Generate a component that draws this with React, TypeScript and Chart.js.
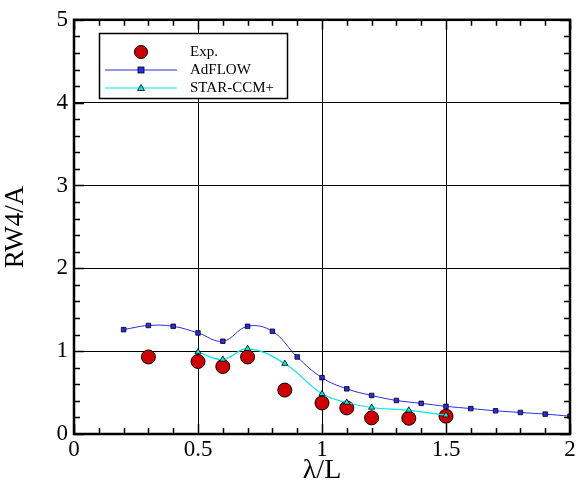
import React, { useEffect, useRef } from 'react';
import { Chart, registerables } from 'chart.js';
Chart.register(...registerables);

const expX = [0.3, 0.5, 0.6, 0.7, 0.85, 1.0, 1.1, 1.2, 1.35, 1.5];
const expY = [0.93, 0.875, 0.815, 0.93, 0.53, 0.375, 0.315, 0.195, 0.19, 0.215];

const adflowX = [0.2, 0.3, 0.4, 0.5, 0.6, 0.7, 0.8, 0.9, 1.0, 1.1, 1.2, 1.3, 1.4, 1.5, 1.6, 1.7, 1.8, 1.9, 2.0];
const adflowY = [1.26, 1.31, 1.3, 1.22, 1.12, 1.3, 1.24, 0.93, 0.68, 0.545, 0.465, 0.405, 0.37, 0.334, 0.307, 0.28, 0.26, 0.24, 0.215];

const starX = [0.5, 0.6, 0.7, 0.85, 1.0, 1.1, 1.2, 1.35, 1.5];
const starY = [0.99, 0.9, 1.03, 0.85, 0.485, 0.38, 0.32, 0.286, 0.227];

const xTicks = [0, 0.5, 1, 1.5, 2];
const xTickLabels = ['0', '0.5', '1', '1.5', '2'];
const yTicks = [0, 1, 2, 3, 4, 5];
const yTickLabels = ['0', '1', '2', '3', '4', '5'];
const legendLabels = ['Exp.', 'AdFLOW', 'STAR-CCM+'];

const SERIF = '"Liberation Serif", "DejaVu Serif", serif';
const RED = '#d00000';
const BLUE = '#2f2fe0';
const BLUE_FILL = '#2a2af0';
const CYAN = '#00e8e8';

const pts = (xs: number[], ys: number[]) => xs.map((x, i) => ({ x, y: ys[i] }));

const framePlugin = {
  id: 'frame',
  afterDatasetsDraw(chart: any) {
    const { ctx, chartArea: a, scales } = chart;
    const xs = scales.x, ys = scales.y;
    ctx.save();
    ctx.strokeStyle = '#000';
    ctx.lineWidth = 1.5;
    for (let i = 0; i <= 20; i++) {
      const v = i / 10;
      const px = Math.round(xs.getPixelForValue(v)) + 0.5;
      const len = i % 5 === 0 ? 10 : 6;
      ctx.beginPath();
      ctx.moveTo(px, a.bottom); ctx.lineTo(px, a.bottom - len);
      ctx.moveTo(px, a.top); ctx.lineTo(px, a.top + len);
      ctx.stroke();
    }
    for (let i = 0; i <= 25; i++) {
      const v = i / 5;
      const py = Math.round(ys.getPixelForValue(v)) + 0.5;
      const len = i % 5 === 0 ? 10 : 6;
      ctx.beginPath();
      ctx.moveTo(a.left, py); ctx.lineTo(a.left + len, py);
      ctx.moveTo(a.right, py); ctx.lineTo(a.right - len, py);
      ctx.stroke();
    }
    ctx.lineWidth = 2.5;
    ctx.strokeRect(a.left, a.top, a.right - a.left, a.bottom - a.top);

    // legend box
    const bx = 99, by = 33, bw = 188, bh = 65;
    ctx.fillStyle = '#fff';
    ctx.fillRect(bx, by, bw, bh);
    ctx.lineWidth = 1.5;
    ctx.strokeStyle = '#000';
    ctx.strokeRect(bx + 0.5, by + 0.5, bw, bh);
    const mx = 141;
    const rows = [52, 70, 88];
    ctx.beginPath();
    ctx.arc(mx, rows[0], 6.5, 0, Math.PI * 2);
    ctx.fillStyle = RED; ctx.fill();
    ctx.lineWidth = 1; ctx.strokeStyle = '#000'; ctx.stroke();
    ctx.beginPath();
    ctx.moveTo(105, rows[1]); ctx.lineTo(177, rows[1]);
    ctx.strokeStyle = BLUE; ctx.lineWidth = 1; ctx.stroke();
    ctx.fillStyle = BLUE_FILL;
    ctx.fillRect(mx - 3, rows[1] - 3, 6, 6);
    ctx.strokeStyle = '#000'; ctx.lineWidth = 0.8;
    ctx.strokeRect(mx - 3, rows[1] - 3, 6, 6);
    ctx.beginPath();
    ctx.moveTo(105, rows[2]); ctx.lineTo(177, rows[2]);
    ctx.strokeStyle = CYAN; ctx.lineWidth = 1.2; ctx.stroke();
    ctx.beginPath();
    ctx.moveTo(mx, rows[2] - 3.5); ctx.lineTo(mx + 3.5, rows[2] + 2.5); ctx.lineTo(mx - 3.5, rows[2] + 2.5); ctx.closePath();
    ctx.fillStyle = CYAN; ctx.fill();
    ctx.strokeStyle = '#000'; ctx.lineWidth = 0.8; ctx.stroke();

    ctx.fillStyle = '#000';
    ctx.font = `15px ${SERIF}`;
    ctx.textBaseline = 'middle';
    ctx.textAlign = 'left';
    legendLabels.forEach((t, i) => ctx.fillText(t, 190, rows[i]));
    ctx.restore();
  },
};

export default function App() {
  const ref = useRef<HTMLCanvasElement>(null);
  useEffect(() => {
    const chart = new Chart(ref.current!, {
      type: 'scatter',
      data: {
        datasets: [
          {
            label: legendLabels[2],
            data: pts(starX, starY),
            showLine: true,
            tension: 0.4,
            borderColor: CYAN,
            borderWidth: 1.2,
            pointStyle: 'triangle',
            pointRadius: 3.5,
            pointBackgroundColor: CYAN,
            pointBorderColor: '#000',
            pointBorderWidth: 0.8,
          },
          {
            label: legendLabels[1],
            data: pts(adflowX, adflowY),
            showLine: true,
            tension: 0.4,
            borderColor: BLUE,
            borderWidth: 1,
            pointStyle: 'rect',
            pointRadius: 3.2,
            pointBackgroundColor: BLUE_FILL,
            pointBorderColor: '#000',
            pointBorderWidth: 0.8,
          },
          {
            label: legendLabels[0],
            data: pts(expX, expY),
            showLine: false,
            pointStyle: 'circle',
            pointRadius: 7,
            pointBackgroundColor: RED,
            pointBorderColor: '#000',
            pointBorderWidth: 1,
          },
        ],
      },
      options: {
        animation: false,
        responsive: false,
        events: [],
        layout: { padding: { top: 15, right: 11, left: 0, bottom: 0 } },
        plugins: { legend: { display: false }, tooltip: { enabled: false } },
        scales: {
          x: {
            type: 'linear',
            min: 0,
            max: 2,
            afterBuildTicks: (s: any) => { s.ticks = xTicks.map((v) => ({ value: v })); },
            afterFit: (s: any) => { s.height = 54; },
            grid: { color: '#000', lineWidth: 1, drawTicks: false },
            border: { display: false },
            ticks: {
              color: '#000', padding: 2, maxRotation: 0, font: { family: SERIF, size: 23 },
              callback: (v: any) => xTickLabels[xTicks.indexOf(Number(v))] ?? '',
            },
            title: { display: true, text: 'λ/L', color: '#000', padding: { top: 0, bottom: 1 }, font: { family: SERIF, size: 28 } },
          },
          y: {
            type: 'linear',
            min: 0,
            max: 5,
            afterBuildTicks: (s: any) => { s.ticks = yTicks.map((v) => ({ value: v })); },
            afterFit: (s: any) => { s.width = 74; },
            grid: { color: '#000', lineWidth: 1, drawTicks: false },
            border: { display: false },
            ticks: {
              color: '#000', padding: 6, font: { family: SERIF, size: 23 },
              callback: (v: any) => yTickLabels[yTicks.indexOf(Number(v))] ?? '',
            },
            title: { display: true, text: 'RW4/A', color: '#000', padding: { top: 0, bottom: 0 }, font: { family: SERIF, size: 27 } },
          },
        },
      },
      plugins: [framePlugin],
    });
    return () => chart.destroy();
  }, []);
  return (
    <div style={{ position: 'fixed', left: 0, top: 0, width: 581, height: 488, background: '#fff' }}>
      <canvas ref={ref} width={581} height={488} style={{ width: 581, height: 488 }} />
    </div>
  );
}
